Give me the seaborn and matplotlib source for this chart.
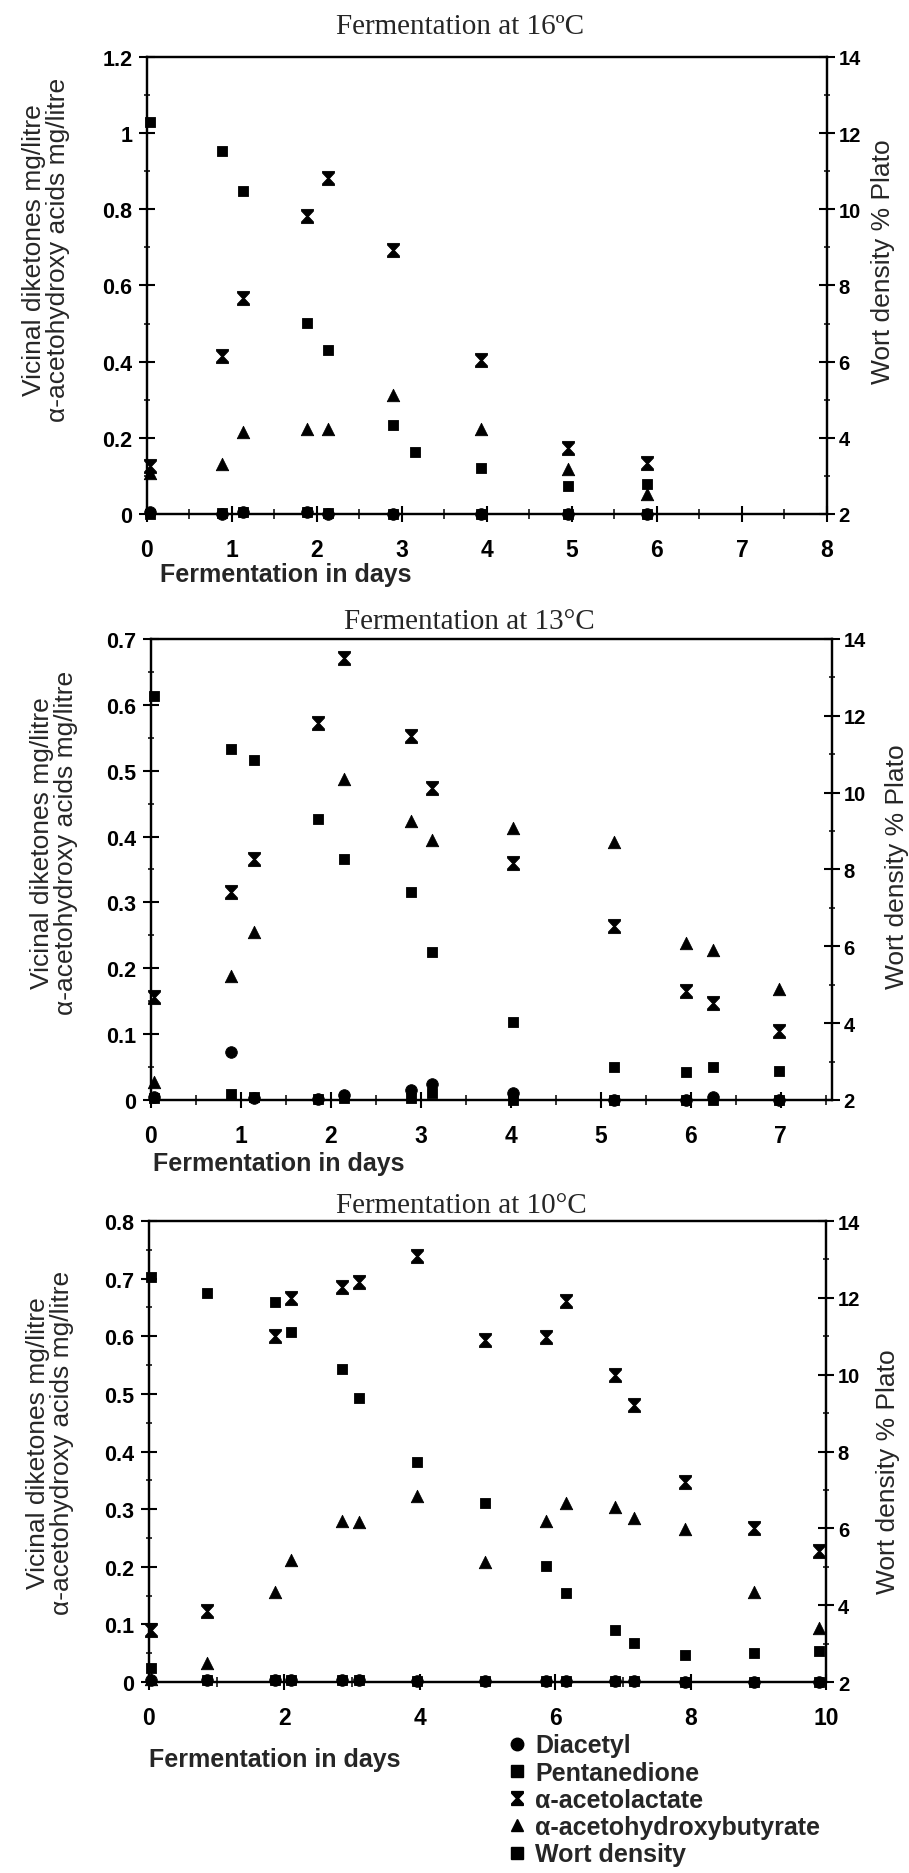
#!/usr/bin/env python3
# -*- coding: utf-8 -*-
"""
plot.py
Três painéis de fermentação (16, 13 e 10 °C): dicetonas vicinais e
alfa-acetohidroxiácidos no eixo esquerdo, densidade do mosto no eixo direito.
Saída: out.png
"""

import numpy as np
import matplotlib
matplotlib.use("Agg")
import matplotlib.pyplot as plt
import seaborn as sns
from matplotlib.path import Path
from matplotlib.lines import Line2D
from matplotlib.ticker import MultipleLocator, FuncFormatter

nan = np.nan

# -------------------- Dados: fermentação a 16 °C --------------------
days_16 = [0.03, 0.88, 1.13, 1.88, 2.13, 2.90, 3.15, 3.93, 4.95, 5.88]
diacetyl_16 = [0.005, 0.0, 0.006, 0.004, 0.0, 0.0, nan, 0.0, 0.0, 0.0]
pentanedione_16 = [0.0, 0.002, 0.004, 0.005, 0.002, 0.001, nan, 0.0, 0.0, 0.0]
acetolactate_16 = [0.125, 0.415, 0.568, 0.782, 0.882, 0.692, nan, 0.404, 0.172, 0.134]
acetohydroxybutyrate_16 = [0.108, 0.131, 0.214, 0.224, 0.224, 0.312, nan, 0.223, 0.118, 0.052]
wort_16 = [12.28, 11.54, 10.47, 7.02, 6.30, 4.33, 3.62, 3.22, 2.74, 2.79]

# -------------------- Dados: fermentação a 13 °C --------------------
days_13 = [0.03, 0.89, 1.15, 1.86, 2.15, 2.89, 3.13, 4.02, 5.15, 5.95, 6.25, 6.98]
diacetyl_13 = [0.005, 0.073, 0.003, 0.002, 0.007, 0.015, 0.025, 0.010, 0.0, 0.0, 0.005, 0.0]
pentanedione_13 = [0.003, 0.009, 0.005, 0.002, 0.003, 0.003, 0.010, 0.0, 0.0, 0.0, 0.0, 0.0]
acetolactate_13 = [0.157, 0.316, 0.366, 0.572, 0.671, 0.553, 0.474, 0.360, 0.264, 0.165, 0.147, 0.105]
acetohydroxybutyrate_13 = [0.028, 0.189, 0.255, nan, 0.487, 0.424, 0.394, 0.413, 0.392, 0.239, 0.227, 0.169]
wort_13 = [12.51, 11.14, 10.86, 9.32, 8.28, 7.42, 5.86, 4.04, 2.86, 2.74, 2.86, 2.75]

# -------------------- Dados: fermentação a 10 °C --------------------
days_10 = [0.03, 0.85, 1.86, 2.10, 2.85, 3.10, 3.96, 4.96, 5.86, 6.16, 6.88, 7.16, 7.92, 8.94, 9.90]
diacetyl_10 = [0.004, 0.003, 0.003, 0.003, 0.003, 0.003, 0.002, 0.002, 0.001, 0.001, 0.001, 0.001, 0.0, 0.0, 0.0]
pentanedione_10 = [0.025, 0.003, 0.003, 0.003, 0.003, 0.003, 0.002, 0.002, 0.001, 0.001, 0.001, 0.001, 0.0, 0.0, 0.0]
acetolactate_10 = [0.091, 0.124, 0.601, 0.667, 0.686, 0.695, 0.739, 0.594, 0.599, 0.661, 0.532, 0.481, 0.348, 0.267, 0.227]
acetohydroxybutyrate_10 = [0.005, 0.033, 0.157, 0.212, 0.280, 0.277, 0.322, 0.209, 0.279, 0.311, 0.304, 0.284, 0.266, 0.156, 0.094]
wort_10 = [12.55, 12.13, 11.90, 11.12, 10.16, 9.39, 7.73, 6.65, 5.03, 4.33, 3.35, 3.02, 2.71, 2.75, 2.80]

series_labels = ["Diacetyl", "Pentanedione", "α-acetolactate",
                 "α-acetohydroxybutyrate", "Wort density"]

# Marcador "ampulheta" para o alfa-acetolactato
HOURGLASS = Path(
    [(-1, 1.2), (1, 1.2), (1, 0.9), (0.15, 0), (1, -0.9), (1, -1.2),
     (-1, -1.2), (-1, -0.9), (-0.15, 0), (-1, 0.9), (-1, 1.2)],
    [Path.MOVETO] + [Path.LINETO] * 9 + [Path.CLOSEPOLY],
)

MARKERS = {
    "Diacetyl": ("o", 70),
    "Pentanedione": ("s", 55),
    "α-acetolactate": (HOURGLASS, 105),
    "α-acetohydroxybutyrate": ("^", 80),
    "Wort density": ("s", 50),
}

sns.set_theme(style="white")
plt.rcParams["font.family"] = ["Liberation Sans", "DejaVu Sans"]
plt.rcParams["axes.edgecolor"] = "black"


def pontos(ax, x, y, nome):
    """Desenha uma série como pontos pretos, sem recorte na borda."""
    marcador, tamanho = MARKERS[nome]
    sns.scatterplot(x=x, y=y, ax=ax, marker=marcador, s=tamanho, color="black",
                    edgecolor="black", linewidth=0.6, clip_on=False, zorder=5)


def estilo_eixos(ax, ax2, xlim, xmaj, xmin, ylim, ymaj, ymin):
    """Molduras, marcações cruzadas e rótulos numéricos."""
    ax.set_xlim(*xlim)
    ax.set_ylim(*ylim)
    ax2.set_ylim(2, 14)
    ax.xaxis.set_major_locator(MultipleLocator(xmaj))
    ax.xaxis.set_minor_locator(MultipleLocator(xmin))
    ax.yaxis.set_major_locator(MultipleLocator(ymaj))
    ax.yaxis.set_minor_locator(MultipleLocator(ymin))
    ax2.yaxis.set_major_locator(MultipleLocator(2))
    ax2.yaxis.set_minor_locator(MultipleLocator(1))
    fmt = FuncFormatter(lambda v, p: f"{round(v, 3):g}")
    ax.xaxis.set_major_formatter(fmt)
    ax.yaxis.set_major_formatter(fmt)
    for a in (ax, ax2):
        for sp in a.spines.values():
            sp.set_visible(True)
            sp.set_linewidth(1.6)
            sp.set_color("black")
    ax.tick_params(axis="x", which="major", direction="inout", length=11, width=1.5,
                   pad=12, labelsize=16.5, bottom=True, colors="black")
    ax.tick_params(axis="x", which="minor", direction="inout", length=7, width=1.3,
                   bottom=True)
    ax.tick_params(axis="y", which="major", direction="inout", length=11, width=1.5,
                   pad=5, labelsize=15.5, left=True, colors="black")
    ax.tick_params(axis="y", which="minor", direction="inout", length=5, width=1.3,
                   left=True)
    ax2.tick_params(axis="y", which="major", direction="inout", length=11, width=1.5,
                    pad=3, labelsize=14.5, right=True, colors="black")
    ax2.tick_params(axis="y", which="minor", direction="inout", length=5, width=1.3,
                    right=True)
    for lab in ax.get_xticklabels() + ax.get_yticklabels() + ax2.get_yticklabels():
        lab.set_fontweight("bold")
    ax.grid(False)
    ax2.grid(False)


def painel(fig, rect, titulo, tit_xy, dados, limites, xlab_xy, ylab_xy, y2lab_xy):
    ax = fig.add_axes(rect)
    ax2 = ax.twinx()
    dias, dia, pen, alac, ahb, wort = dados
    pontos(ax, dias, dia, "Diacetyl")
    pontos(ax, dias, pen, "Pentanedione")
    pontos(ax, dias, alac, "α-acetolactate")
    pontos(ax, dias, ahb, "α-acetohydroxybutyrate")
    pontos(ax2, dias, wort, "Wort density")
    estilo_eixos(ax, ax2, *limites)

    ax.text(tit_xy[0], tit_xy[1], titulo, transform=ax.transAxes, ha="center",
            va="center", fontsize=21, family=["Liberation Serif", "DejaVu Serif"])
    ax.set_xlabel("Fermentation in days", loc="left", fontsize=18, va="center",
                  fontweight="bold")
    ax.xaxis.set_label_coords(*xlab_xy)
    ax.set_ylabel("Vicinal diketones mg/litre\nα-acetohydroxy acids mg/litre",
                  fontsize=19, va="center", linespacing=1.0)
    ax.yaxis.set_label_coords(*ylab_xy)
    ax2.set_ylabel("Wort density % Plato", fontsize=19, va="center")
    ax2.yaxis.set_label_coords(*y2lab_xy)
    return ax, ax2


# ---- FLUXO DE EXECUÇÃO ----
fig = plt.figure(figsize=(9.09, 18.74), dpi=100)

painel(fig, [0.1617, 0.7252, 0.748, 0.2439], "Fermentation at 16ºC", (0.46, 1.068),
       (days_16, diacetyl_16, pentanedione_16, acetolactate_16,
        acetohydroxybutyrate_16, wort_16),
       ((0, 8), 1, 0.5, (0, 1.2), 0.2, 0.1),
       (0.019, -0.131), (-0.148, 0.58), (1.083, 0.555))

painel(fig, [0.1661, 0.4125, 0.749, 0.246], "Fermentation at 13°C", (0.468, 1.040),
       (days_13, diacetyl_13, pentanedione_13, acetolactate_13,
        acetohydroxybutyrate_13, wort_13),
       ((0, 7.57), 1, 0.5, (0, 0.7), 0.1, 0.05),
       (0.003, -0.137), (-0.142, 0.56), (1.095, 0.508))

ax3, ax3b = painel(fig, [0.1639, 0.1019, 0.7448, 0.246], "Fermentation at 10°C",
                   (0.462, 1.035),
                   (days_10, diacetyl_10, pentanedione_10, acetolactate_10,
                    acetohydroxybutyrate_10, wort_10),
                   ((0, 10), 2, 1, (0, 0.8), 0.1, 0.05),
                   (0.0, -0.166), (-0.146, 0.52), (1.092, 0.458))

# Legenda abaixo do último painel
tam_leg = {"Diacetyl": 9, "Pentanedione": 8.5, "α-acetolactate": 10,
           "α-acetohydroxybutyrate": 9, "Wort density": 8.5}
handles = [Line2D([], [], linestyle="none", color="black", marker=MARKERS[n][0],
                  markersize=tam_leg[n]) for n in series_labels]
fig.legend(handles, series_labels, loc="upper left", bbox_to_anchor=(0.556, 0.0745),
           frameon=False, prop={"size": 18, "weight": "bold"}, handlelength=0.9,
           handletextpad=0.3, labelspacing=0.13, borderpad=0, borderaxespad=0)

fig.savefig("out.png", dpi=100, facecolor="white")
